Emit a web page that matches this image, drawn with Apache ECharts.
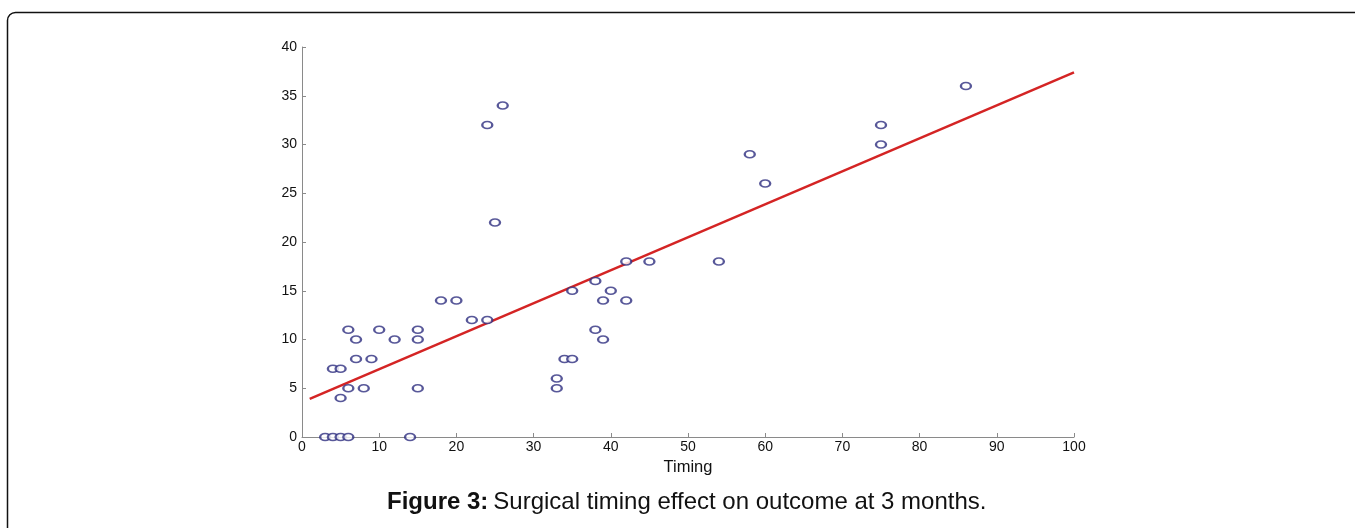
<!DOCTYPE html>
<html>
<head>
<meta charset="utf-8">
<script src="https://cdn.jsdelivr.net/npm/echarts@6/dist/echarts.min.js"></script>
<style>html,body{margin:0;padding:0;background:#fff}#c{width:1355px;height:528px}</style>
</head>
<body>
<div id="c"></div>
<script>
// Timing (x) values of observations
const timing = [3,4,5,6,14, 4,5,5,6,8,15, 6,7,7,9,10,12,15,15, 18,20,22,24, 24,25,26, 33,33,34,35,35, 38,38,39,39,40,42,42,45, 54,58,60,75,75,86];
// Outcome (y) values at 3 months
const outcome = [0,0,0,0,0, 7,7,4,5,5,5, 11,10,8,8,11,10,11,10, 14,14,12,12, 32,22,34, 5,6,8,8,15, 16,11,14,10,15,18,14,18, 18,29,26,32,30,36];
// Fitted regression line endpoints
const fitX = [1, 100];
const fitY = [3.9, 37.4];
const xTicks = [0,10,20,30,40,50,60,70,80,90,100];
const yTicks = [0,5,10,15,20,25,30,35,40];

const chart = echarts.init(document.getElementById('c'), null, {renderer: 'canvas'});
const font = 'Liberation Sans, Arial, sans-serif';
chart.setOption({
  animation: false,
  backgroundColor: '#fff',
  graphic: [{
    type: 'rect',
    shape: {x: 7.5, y: 12.5, width: 1400, height: 600, r: 8},
    style: {fill: 'none', stroke: '#111', lineWidth: 1.5},
    silent: true
  }],
  title: {
    text: '{b|Figure 3:} {n|Surgical timing effect on outcome at 3 months.}',
    left: 382,
    top: 485,
    textStyle: {
      fontWeight: 'normal',
      rich: {
        b: {fontFamily: font, fontSize: 24, fontWeight: 'bold', color: '#111'},
        n: {fontFamily: font, fontSize: 24, fontWeight: 'normal', color: '#111'}
      }
    }
  },
  grid: {left: 302, right: 281, top: 47, bottom: 91, containLabel: false},
  xAxis: {
    type: 'value', min: xTicks[0], max: xTicks[xTicks.length-1], interval: 10,
    name: 'Timing', nameLocation: 'middle', nameGap: 16,
    nameTextStyle: {fontFamily: font, fontSize: 16.5, color: '#111'},
    axisLine: {show: true, lineStyle: {color: '#8a8a8a', width: 1}},
    axisTick: {show: true, inside: true, length: 4, lineStyle: {color: '#8a8a8a'}},
    axisLabel: {fontFamily: font, fontSize: 14, color: '#111', margin: 3},
    splitLine: {show: false}
  },
  yAxis: {
    type: 'value', min: yTicks[0], max: yTicks[yTicks.length-1], interval: 5,
    axisLine: {show: true, lineStyle: {color: '#8a8a8a', width: 1}},
    axisTick: {show: true, inside: true, length: 4, lineStyle: {color: '#8a8a8a'}},
    axisLabel: {fontFamily: font, fontSize: 14, color: '#111', margin: 5},
    splitLine: {show: false}
  },
  series: [
    {
      type: 'scatter',
      data: timing.map((t, i) => [t, outcome[i]]),
      symbol: 'emptyCircle',
      symbolSize: [10, 7],
      itemStyle: {color: '#2e2e80', borderColor: '#2e2e80', borderWidth: 0.8},
      z: 3
    },
    {
      type: 'line',
      data: fitX.map((x, i) => [x, fitY[i]]),
      symbol: 'none',
      lineStyle: {color: '#d42424', width: 2.5},
      z: 2
    }
  ]
});
</script>
</body>
</html>
